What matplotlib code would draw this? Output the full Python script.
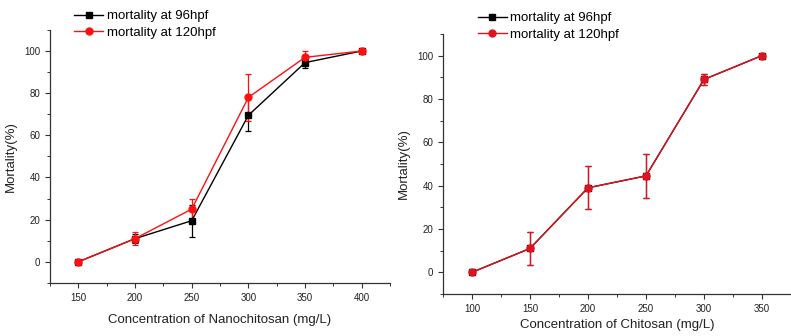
import numpy as np
import matplotlib
matplotlib.use("Agg")
import matplotlib.pyplot as plt
from matplotlib.ticker import MultipleLocator
from matplotlib.lines import Line2D

plt.rcParams['font.family'] = ['Liberation Sans', 'DejaVu Sans']

# left panel: nanochitosan
nano_conc = [150, 200, 250, 300, 350, 400]
nano_96 = [0, 11, 19.5, 69.5, 94.5, 100]
nano_96_err = [0, 2, 7.5, 7.5, 2.5, 0]
nano_120 = [0, 11, 25, 78, 97, 100]
nano_120_err = [0, 3, 5, 11, 3, 0]

# right panel: chitosan
chit_conc = [100, 150, 200, 250, 300, 350]
chit_96 = [0, 11, 39, 44.5, 89, 100]
chit_96_err = [0, 7.5, 10, 10, 2.5, 0]
chit_120 = [0, 11, 39, 44.5, 89, 100]
chit_120_err = [0, 7.5, 10, 10, 2.5, 0]

fig = plt.figure(figsize=(7.91, 3.36), dpi=100)
ax1 = fig.add_axes([0.0632, 0.158, 0.430, 0.753])
ax2 = fig.add_axes([0.560, 0.125, 0.44, 0.774])


def draw(ax, x, y1, e1, y2, e2, xlim, xlabel, legxy, red, pad):
    ax.errorbar(x, y1, yerr=e1, color='black', marker='s', ms=4.5, lw=1,
                capsize=2, elinewidth=0.9, capthick=0.9)
    ax.errorbar(x, y2, yerr=e2, color=red, marker='o', ms=5, lw=1,
                capsize=2, elinewidth=0.9, capthick=0.9)
    ax.set_xlim(*xlim)
    ax.set_ylim(-10, 110)
    ax.set_yticks([0, 20, 40, 60, 80, 100])
    ax.set_xticks(x)
    ax.xaxis.set_minor_locator(MultipleLocator(25))
    ax.yaxis.set_minor_locator(MultipleLocator(10))
    for s in ['top', 'right']:
        ax.spines[s].set_visible(False)
    for s in ['left', 'bottom']:
        ax.spines[s].set_color('#333333')
        ax.spines[s].set_linewidth(0.9)
    ax.tick_params(which='major', length=3.5, width=0.8, labelsize=7,
                   colors='#333333', labelcolor='#222222')
    ax.tick_params(which='minor', length=2, width=0.7, colors='#333333')
    ax.set_xlabel(xlabel, fontsize=9.5, color='#222222', labelpad=pad)
    ax.set_ylabel('Mortality(%)', fontsize=9.5, color='#222222', labelpad=5)
    handles = [Line2D([], [], color='black', marker='s', ms=4.5, lw=1),
               Line2D([], [], color=red, marker='o', ms=5, lw=1)]
    fig.legend(handles, ['mortality at 96hpf', 'mortality at 120hpf'],
               loc='upper left', bbox_to_anchor=legxy, frameon=False,
               fontsize=9.5, handlelength=2.2, handletextpad=0.3,
               labelspacing=0.35, borderaxespad=0)


draw(ax1, nano_conc, nano_96, nano_96_err, nano_120, nano_120_err,
     (125, 425), 'Concentration of Nanochitosan (mg/L)', (0.087, 0.986), '#ff1010', 8)
draw(ax2, chit_conc, chit_96, chit_96_err, chit_120, chit_120_err,
     (75, 375), 'Concentration of Chitosan (mg/L)', (0.597, 0.98), '#e0141e', 4)

fig.savefig('out.png', dpi=100)
